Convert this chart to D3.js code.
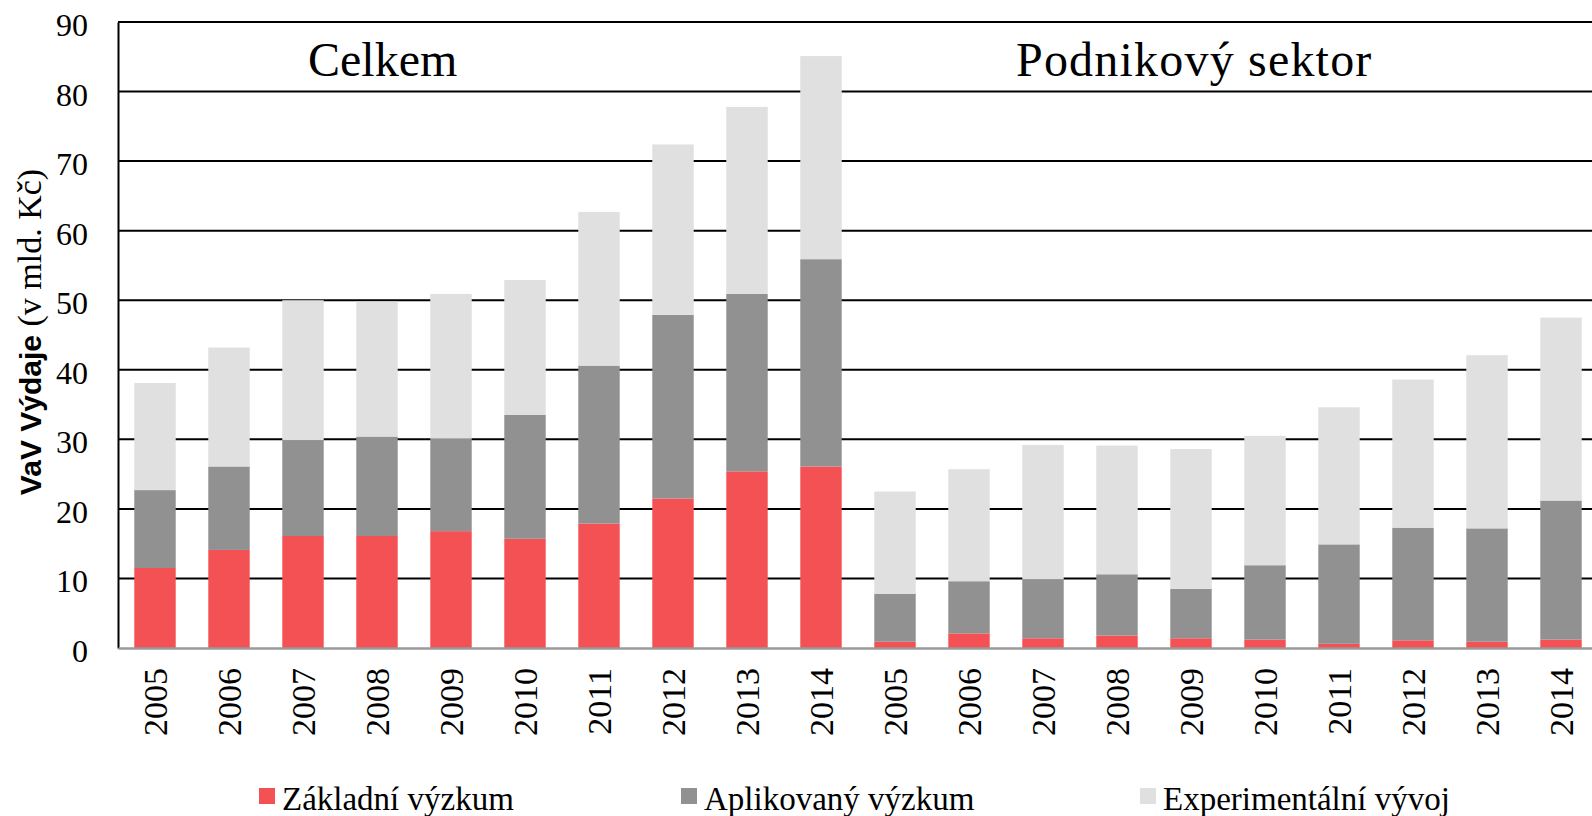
<!DOCTYPE html>
<html>
<head>
<meta charset="utf-8">
<script src="https://cdn.jsdelivr.net/npm/d3@7"></script>
<style>
    body { margin: 0; background: #fff; }
    svg { display: block; }
    .tick text { font-family: "Liberation Serif", serif; fill: #000; }
</style>
</head>
<body>
<div id="chart"></div>
<script>
// Data (mld. Kč)
const years = ["2005", "2006", "2007", "2008", "2009", "2010", "2011", "2012", "2013", "2014"];
const groups = ["Celkem", "Podnikový sektor"];
const seriesNames = ["Základní výzkum", "Aplikovaný výzkum", "Experimentální vývoj"];

const celkemZakladni = [11.5, 14.1, 16.1, 16.1, 16.8, 15.7, 17.9, 21.5, 25.4, 26.1];
const celkemAplikovany = [11.2, 12.0, 13.8, 14.3, 13.3, 17.8, 22.7, 26.4, 25.5, 29.8];
const celkemExperimentalni = [15.4, 17.1, 20.1, 19.4, 20.8, 19.4, 22.1, 24.5, 26.9, 29.2];

const podnikZakladni = [0.9, 2.1, 1.4, 1.8, 1.4, 1.2, 0.6, 1.1, 0.9, 1.2];
const podnikAplikovany = [6.9, 7.5, 8.5, 8.8, 7.1, 10.7, 14.3, 16.2, 16.3, 20.0];
const podnikExperimentalni = [14.7, 16.1, 19.3, 18.5, 20.1, 18.6, 19.7, 21.3, 24.9, 26.3];

const yTicks = [0, 10, 20, 30, 40, 50, 60, 70, 80, 90];

const colors = ["#f45155", "#919191", "#e0e0e0"];

// build rows for d3.stack
const rows = [];
years.forEach((y, i) => rows.push({ key: "C" + y, year: y,
    [seriesNames[0]]: celkemZakladni[i], [seriesNames[1]]: celkemAplikovany[i], [seriesNames[2]]: celkemExperimentalni[i] }));
years.forEach((y, i) => rows.push({ key: "P" + y, year: y,
    [seriesNames[0]]: podnikZakladni[i], [seriesNames[1]]: podnikAplikovany[i], [seriesNames[2]]: podnikExperimentalni[i] }));

const W = 1592, H = 816;
const plot = { left: 118, right: 1598, top: 22, bottom: 648 };

const svg = d3.select("#chart").append("svg")
    .attr("width", W)
    .attr("height", H);

const x = d3.scaleBand()
    .domain(rows.map(d => d.key))
    .range([plot.left, plot.right])
    .paddingInner(0.44)
    .paddingOuter(0.22);

const y = d3.scaleLinear()
    .domain([0, 90])
    .range([plot.bottom, plot.top]);

// gridlines
svg.append("g")
    .selectAll("line")
    .data(yTicks.filter(t => t > 0))
    .enter()
    .append("line")
    .attr("x1", plot.left)
    .attr("x2", plot.right)
    .attr("y1", d => y(d))
    .attr("y2", d => y(d))
    .attr("stroke", "#000")
    .attr("stroke-width", 2);

// stacked bars
const stacked = d3.stack().keys(seriesNames)(rows);

svg.append("g")
    .selectAll("g")
    .data(stacked)
    .enter()
    .append("g")
    .attr("fill", (d, i) => colors[i])
    .selectAll("rect")
    .data(d => d)
    .enter()
    .append("rect")
    .attr("x", d => x(d.data.key))
    .attr("y", d => y(d[1]))
    .attr("width", x.bandwidth())
    .attr("height", d => y(d[0]) - y(d[1]));

// y axis
const yAxis = svg.append("g")
    .attr("transform", `translate(${plot.left},0)`)
    .call(d3.axisLeft(y).tickValues(yTicks).tickSize(0).tickPadding(30));
yAxis.select(".domain").attr("stroke", "#000").attr("stroke-width", 2);
yAxis.selectAll(".tick text")
    .style("font-size", "32px")
    .attr("dy", "0.42em");

// x axis
const xAxis = svg.append("g")
    .attr("transform", `translate(0,${plot.bottom})`)
    .call(d3.axisBottom(x).tickSize(0).tickFormat(k => k.slice(1)));
xAxis.select(".domain").attr("stroke", "#999").attr("stroke-width", 2.5);
xAxis.selectAll(".tick text")
    .style("font-size", "34px")
    .attr("text-anchor", "end")
    .attr("transform", "rotate(-90)")
    .attr("x", -20)
    .attr("y", 0)
    .attr("dy", "0.36em");

// group titles
svg.append("text")
    .attr("x", 308)
    .attr("y", 76)
    .style("font-family", "Liberation Serif, serif")
    .style("font-size", "48px")
    .text(groups[0]);

svg.append("text")
    .attr("x", 1016)
    .attr("y", 76)
    .style("font-family", "Liberation Serif, serif")
    .style("font-size", "48px")
    .style("letter-spacing", "1.2px")
    .text(groups[1]);

// y axis title
const yTitle = svg.append("text")
    .attr("transform", "translate(41,332) rotate(-90)")
    .attr("text-anchor", "middle");
yTitle.append("tspan")
    .style("font-family", "Liberation Sans, sans-serif")
    .style("font-weight", "bold")
    .style("font-size", "30px")
    .text("VaV Výdaje");
yTitle.append("tspan")
    .style("font-family", "Liberation Serif, serif")
    .style("font-size", "34px")
    .text(" (v mld. Kč)");

// legend
const legendX = [259, 681, 1140];
const legend = svg.append("g");
seriesNames.forEach((name, i) => {
    legend.append("rect")
        .attr("x", legendX[i])
        .attr("y", 788)
        .attr("width", 16)
        .attr("height", 16)
        .attr("fill", colors[i]);
    legend.append("text")
        .attr("x", legendX[i] + 23)
        .attr("y", 810)
        .style("font-family", "Liberation Serif, serif")
        .style("font-size", "33px")
        .text(name);
});
</script>
</body>
</html>
